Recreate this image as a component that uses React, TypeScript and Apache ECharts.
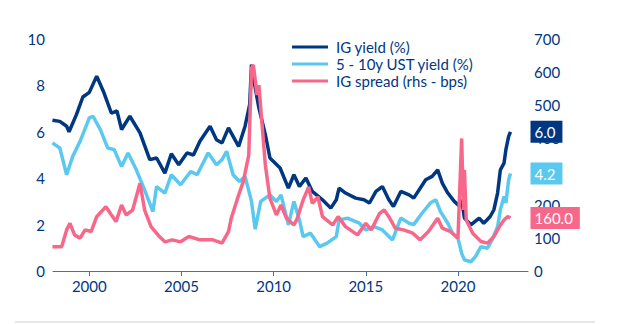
import React, { useEffect, useRef } from "react";
import * as echarts from "echarts";

const NAVY = "#003781";
const LIGHT = "#5bc8f0";
const PINK = "#f7678a";
const FONT = "Lato";

const xTickYears = [2000, 2005, 2010, 2015, 2020];

const igYieldDates = [1998.0, 1998.4, 1998.77, 1998.9, 1999.3, 1999.65, 2000.0, 2000.4, 2000.76, 2001.2, 2001.5, 2001.75, 2002.2, 2002.75, 2003.28, 2003.65, 2004.1, 2004.45, 2004.85, 2005.3, 2005.65, 2006.0, 2006.55, 2006.9, 2007.2, 2007.55, 2008.1, 2008.45, 2008.7, 2008.8, 2009.0, 2009.2, 2009.55, 2009.8, 2010.35, 2010.8, 2011.1, 2011.4, 2011.75, 2012.1, 2012.65, 2013.1, 2013.4, 2013.55, 2013.9, 2014.45, 2014.9, 2015.2, 2015.55, 2015.9, 2016.25, 2016.5, 2016.9, 2017.35, 2017.6, 2017.95, 2018.25, 2018.6, 2018.9, 2019.15, 2019.45, 2019.8, 2020.1, 2020.2, 2020.35, 2020.7, 2021.15, 2021.4, 2021.75, 2021.95, 2022.15, 2022.3, 2022.5, 2022.6, 2022.75, 2022.85];
const igYieldValues = [6.5, 6.45, 6.24, 6.0, 6.74, 7.5, 7.7, 8.4, 7.75, 6.8, 6.9, 6.1, 6.67, 5.95, 4.8, 4.87, 4.22, 5.05, 4.58, 5.09, 5.0, 5.59, 6.24, 5.66, 5.52, 6.17, 5.37, 6.24, 7.17, 8.9, 7.9, 7.03, 5.88, 4.87, 4.44, 3.57, 4.15, 3.64, 4.01, 3.43, 3.07, 2.71, 3.07, 3.57, 3.36, 3.14, 3.07, 2.93, 3.43, 3.64, 3.07, 2.78, 3.43, 3.28, 3.14, 3.57, 3.93, 4.08, 4.36, 3.79, 3.36, 3.0, 2.78, 3.07, 2.28, 1.99, 2.28, 2.06, 2.35, 2.64, 3.36, 4.36, 4.65, 5.23, 5.8, 6.0];

const ustDates = [1998.0, 1998.4, 1998.77, 1999.1, 1999.5, 2000.0, 2000.2, 2000.6, 2001.0, 2001.35, 2001.75, 2002.1, 2002.55, 2003.0, 2003.45, 2003.65, 2004.1, 2004.45, 2004.95, 2005.5, 2005.85, 2006.45, 2006.9, 2007.2, 2007.45, 2007.8, 2008.15, 2008.45, 2008.8, 2009.0, 2009.3, 2009.8, 2010.15, 2010.4, 2010.8, 2011.1, 2011.4, 2011.6, 2012.0, 2012.5, 2012.9, 2013.4, 2013.55, 2014.0, 2014.65, 2015.0, 2015.45, 2015.9, 2016.45, 2016.9, 2017.35, 2017.6, 2018.05, 2018.5, 2018.8, 2019.05, 2019.45, 2019.7, 2020.0, 2020.2, 2020.35, 2020.7, 2020.95, 2021.25, 2021.6, 2021.85, 2022.15, 2022.3, 2022.5, 2022.6, 2022.75, 2022.85];
const ustValues = [5.52, 5.3, 4.15, 4.94, 5.59, 6.6, 6.67, 6.09, 5.3, 5.23, 4.5, 5.09, 4.36, 3.5, 2.56, 3.64, 3.36, 4.15, 3.72, 4.29, 4.15, 5.09, 4.58, 4.8, 5.16, 4.15, 3.86, 4.08, 3.0, 1.8, 3.0, 3.28, 3.0, 3.28, 1.99, 3.0, 2.2, 1.48, 1.63, 1.05, 1.2, 1.48, 2.2, 2.28, 2.06, 1.77, 1.91, 1.77, 1.34, 2.28, 2.06, 2.0, 2.49, 2.93, 3.07, 2.56, 2.06, 1.63, 1.41, 0.76, 0.48, 0.4, 0.62, 1.05, 0.98, 1.34, 1.91, 2.64, 3.21, 2.93, 3.93, 4.2];

const spreadDates = [1998.0, 1998.5, 1998.77, 1998.95, 1999.2, 1999.5, 1999.77, 2000.1, 2000.4, 2000.9, 2001.2, 2001.45, 2001.75, 2002.0, 2002.35, 2002.75, 2003.0, 2003.35, 2003.8, 2004.1, 2004.5, 2004.95, 2005.4, 2006.0, 2006.7, 2007.2, 2007.55, 2007.7, 2008.1, 2008.35, 2008.65, 2008.8, 2008.9, 2009.1, 2009.2, 2009.55, 2009.8, 2010.15, 2010.4, 2010.7, 2011.1, 2011.25, 2011.6, 2011.9, 2012.1, 2012.4, 2012.65, 2013.2, 2013.5, 2013.9, 2014.55, 2015.0, 2015.3, 2015.75, 2016.0, 2016.25, 2016.6, 2017.05, 2017.55, 2017.95, 2018.4, 2018.9, 2019.15, 2019.6, 2020.0, 2020.2, 2020.3, 2020.35, 2020.45, 2020.8, 2021.25, 2021.6, 2021.95, 2022.25, 2022.5, 2022.7, 2022.85];
const spreadValues = [73, 73, 124, 144, 109, 99, 124, 119, 164, 194, 169, 149, 199, 169, 184, 265, 184, 134, 104, 88, 94, 88, 104, 94, 94, 84, 119, 159, 229, 269, 350, 612, 622, 531, 561, 320, 219, 169, 199, 159, 139, 154, 214, 254, 204, 224, 164, 139, 164, 134, 109, 144, 124, 174, 184, 164, 129, 124, 114, 94, 119, 159, 129, 119, 99, 400, 184, 305, 154, 114, 89, 84, 104, 134, 154, 164, 160];

const zip = (xs: number[], ys: number[]) => xs.map((x, i) => [x, ys[i]]);

export default function App() {
  const ref = useRef<HTMLDivElement>(null);
  useEffect(() => {
    document.body.style.margin = "0";
    if (!ref.current) return;
    const chart = echarts.init(ref.current, null, { renderer: "svg" });
    const endLabel = (color: string) => ({
      show: true,
      distance: 20,
      formatter: (p: any) => Number(p.value[1]).toFixed(1),
      color: "#ffffff",
      backgroundColor: color,
      fontFamily: FONT,
      fontSize: 15,
      lineHeight: 16,
      padding: [3, 7, 3, 4],
    });
    chart.setOption({
      animation: false,
      textStyle: { fontFamily: FONT },
      grid: { left: 53, right: 100, top: 39, bottom: 53 },
      legend: {
        orient: "vertical",
        left: 287,
        top: 34,
        itemWidth: 36,
        itemHeight: 3,
        itemGap: 1,
        icon: "rect",
        textStyle: { color: NAVY, fontSize: 15, lineHeight: 16, fontFamily: FONT, padding: [0, 0, 0, 3] },
        data: ["IG yield (%)", "5 - 10y UST yield (%)", "IG spread (rhs - bps)"],
      },
      xAxis: {
        type: "value",
        min: 1998.03,
        max: 2023.8,
        splitLine: { show: false },
        axisLine: { show: true, lineStyle: { color: "#4a6fb0", width: 1 } },
        axisTick: { show: true, customValues: xTickYears, length: 5, lineStyle: { color: "#4a6fb0" } },
        axisLabel: {
          customValues: xTickYears,
          color: NAVY,
          fontSize: 15,
          fontFamily: FONT,
          margin: 7,
          formatter: (v: number) => String(Math.round(v)),
        },
      },
      yAxis: [
        {
          type: "value",
          min: 0,
          max: 10,
          interval: 2,
          splitLine: { show: false },
          axisLine: { show: false },
          axisTick: { show: false },
          axisLabel: { color: NAVY, fontSize: 15, fontFamily: FONT, margin: 8 },
        },
        {
          type: "value",
          min: 0,
          max: 700,
          interval: 100,
          splitLine: { show: false },
          axisLine: { show: false },
          axisTick: { show: false },
          axisLabel: { color: NAVY, fontSize: 15, fontFamily: FONT, margin: 6 },
        },
      ],
      series: [
        {
          name: "IG yield (%)",
          type: "line",
          data: zip(igYieldDates, igYieldValues),
          showSymbol: false,
          color: NAVY,
          lineStyle: { width: 3.5, color: NAVY },
          endLabel: endLabel(NAVY),
          z: 2,
        },
        {
          name: "5 - 10y UST yield (%)",
          type: "line",
          data: zip(ustDates, ustValues),
          showSymbol: false,
          color: LIGHT,
          lineStyle: { width: 3.5, color: LIGHT },
          endLabel: endLabel(LIGHT),
          z: 3,
        },
        {
          name: "IG spread (rhs - bps)",
          type: "line",
          yAxisIndex: 1,
          data: zip(spreadDates, spreadValues),
          showSymbol: false,
          color: PINK,
          lineStyle: { width: 3.5, color: PINK },
          endLabel: endLabel(PINK),
          z: 4,
        },
      ],
      graphic: [
        {
          type: "line",
          shape: { x1: 15, y1: 322, x2: 595, y2: 322 },
          style: { stroke: "#e6e6e6", lineWidth: 2 },
          silent: true,
        },
      ],
    });
    return () => chart.dispose();
  }, []);
  return <div ref={ref} style={{ width: 628, height: 324 }} />;
}
